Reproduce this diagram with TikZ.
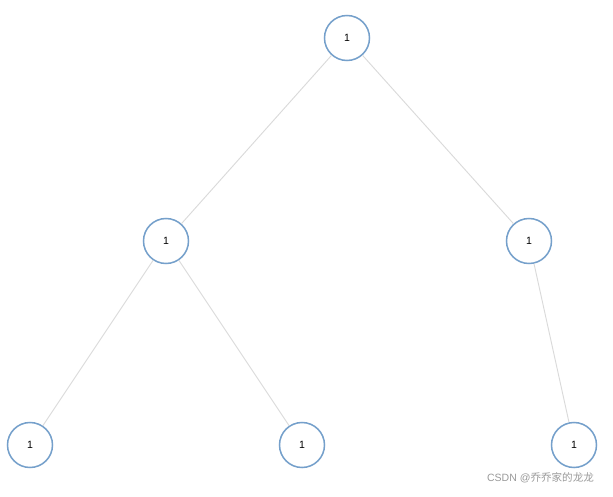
\documentclass[tikz,border=0pt]{standalone}
\usepackage{fontspec}
\setmainfont{Liberation Sans}
\newfontfamily\cjk{Noto Sans CJK SC}
\definecolor{ringblue}{RGB}{117,160,203}
\definecolor{edgegray}{RGB}{218,218,218}
\begin{document}
\begin{tikzpicture}[x=0.03cm, y=-0.03cm,
  treenode/.style={circle, draw=ringblue, line width=1.3pt, fill=white, minimum size=1.35cm, inner sep=0pt, font=\small},
  treeedge/.style={draw=edgegray, line width=0.8pt}]
\useasboundingbox (0,0) rectangle (613,496);
\node[treenode] (root) at (347,38) {1};
\node[treenode] (l) at (166,241) {1};
\node[treenode] (r) at (529,241) {1};
\node[treenode] (ll) at (30,445) {1};
\node[treenode] (lr) at (302,445) {1};
\node[treenode] (rr) at (574,445) {1};
\begin{scope}[on background layer/.style={}]
\end{scope}
\path[treeedge] (root) -- (l) (root) -- (r) (l) -- (ll) (l) -- (lr) (r) -- (rr);
\node[anchor=east, text=gray!80, font=\small] (mark) at (598,478) {CSDN @{\cjk 乔乔家的龙龙}};
\end{tikzpicture}
\end{document}
